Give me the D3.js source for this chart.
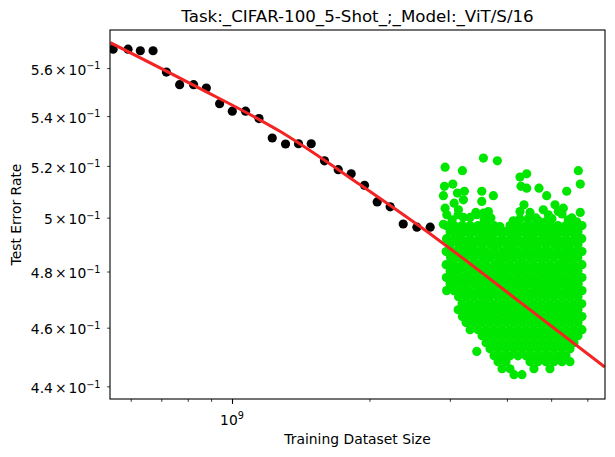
<!DOCTYPE html>
<html>
<head>
<meta charset="utf-8">
<script src="https://cdnjs.cloudflare.com/ajax/libs/d3/7.8.5/d3.min.js"></script>
<style>
    body { margin: 0; background: #fff; }
    svg { font-family: "DejaVu Sans", sans-serif; }
    .ticklabel { font-size: 13.89px; }
    .ticklabel .sup { font-size: 9.7px; }
</style>
</head>
<body>
<svg id="chart" width="615" height="457"></svg>
<script>
// axis limits (size in billions)
var xLimits = [0.5405, 6.56];
var yLimits = [0.4358, 0.5764];

// observed points (black)
var trainSize = [0.5490, 0.5920, 0.6298, 0.6716, 0.7183, 0.7679, 0.8240, 0.8786, 0.9394, 1.0015,
    1.0709, 1.1457, 1.2250, 1.3100, 1.3985, 1.4911, 1.5941, 1.7086, 1.8240, 1.9508,
    2.0796, 2.2203, 2.3712, 2.5405, 2.7164];
var trainError = [0.5681, 0.5681, 0.5674, 0.5674, 0.5583, 0.5530, 0.5530, 0.5516, 0.5451, 0.5420,
    0.5420, 0.5390, 0.5311, 0.5287, 0.5288, 0.5288, 0.5220, 0.5185, 0.5169, 0.5124,
    0.5060, 0.5041, 0.4976, 0.4964, 0.4964];

// fitted curve (red), sampled along the drawn line
var fitSize = [0.5416, 0.8312, 1.276, 1.909, 2.813, 4.274, 6.551];
var fitError = [0.5709, 0.5524, 0.5337, 0.5126, 0.4920, 0.4690, 0.4465];

// predicted points (green): loose points above/below the cloud
var predOutliers = [[3.553, 0.5231], [3.812, 0.5220], [2.929, 0.5195], [3.196, 0.5181], [5.734, 0.5181],
    [4.420, 0.5169], [4.273, 0.5156], [5.792, 0.5129], [2.919, 0.5120], [3.045, 0.5129],
    [4.295, 0.5120], [4.420, 0.5113], [4.703, 0.5113], [5.408, 0.5101], [3.524, 0.5101],
    [3.736, 0.5084], [4.889, 0.5084], [2.904, 0.5084], [3.117, 0.5094], [3.228, 0.5101],
    [3.212, 0.5068], [3.524, 0.5062], [4.360, 0.5049], [5.098, 0.5049], [5.316, 0.5036],
    [2.929, 0.5036], [3.065, 0.5055], [3.133, 0.5030], [4.273, 0.5023], [4.806, 0.5030],
    [2.954, 0.5011], [3.553, 0.5017], [3.643, 0.5023], [3.212, 0.5001], [4.929, 0.5011],
    [5.184, 0.5023], [5.451, 0.4992], [5.687, 0.4984], [4.131, 0.4988], [4.456, 0.4996],
    [4.686, 0.4988], [3.436, 0.5011], [3.322, 0.5001], [3.864, 0.4966], [2.904, 0.4975],
    [3.643, 0.4979], [3.436, 0.4518],
    [3.035, 0.4992], [3.128, 0.5011], [3.420, 0.5020], [3.567, 0.4992], [3.690, 0.4999],
    [4.273, 0.4996], [4.494, 0.5020], [4.630, 0.4999], [5.020, 0.4996], [5.281, 0.5014],
    [5.550, 0.4999], [5.790, 0.5020], [4.871, 0.4985]];

// predicted points (green): the dense cloud, read band by band
var predRowError = [0.4970, 0.4947, 0.4921, 0.4899, 0.4873, 0.4851, 0.4825, 0.4803, 0.4778, 0.4756,
    0.4731, 0.4709, 0.4684, 0.4663, 0.4639, 0.4618, 0.4593, 0.4572, 0.4548, 0.4527,
    0.4503, 0.4483, 0.4459, 0.4439];
var predRowSize = [
    [2.944, 3.065, 3.191, 3.322, 3.459, 3.601, 3.749, 4.063, 4.230, 4.404, 4.585, 4.774, 4.970, 5.176, 5.388, 5.610, 5.841],
    [3.004, 3.128, 3.256, 3.390, 3.529, 3.674, 3.825, 3.982, 4.146, 4.316, 4.494, 4.679, 4.871, 5.071, 5.281, 5.498, 5.725],
    [2.950, 3.070, 3.185, 3.322, 3.465, 3.601, 3.740, 3.903, 4.070, 4.230, 4.410, 4.585, 4.780, 4.970, 5.170, 5.388, 5.620, 5.835],
    [3.004, 3.135, 3.256, 3.385, 3.529, 3.680, 3.825, 3.990, 4.146, 4.320, 4.494, 4.670, 4.871, 5.080, 5.281, 5.490, 5.725],
    [2.944, 3.065, 3.195, 3.322, 3.459, 3.595, 3.749, 3.910, 4.063, 4.225, 4.404, 4.590, 4.774, 4.965, 5.176, 5.395, 5.610, 5.841],
    [3.010, 3.128, 3.250, 3.390, 3.535, 3.674, 3.830, 3.982, 4.140, 4.316, 4.500, 4.679, 4.865, 5.071, 5.290, 5.498, 5.720],
    [2.944, 3.060, 3.191, 3.330, 3.459, 3.601, 3.755, 3.903, 4.063, 4.235, 4.404, 4.580, 4.774, 4.970, 5.180, 5.388, 5.605, 5.841],
    [3.004, 3.128, 3.262, 3.390, 3.525, 3.674, 3.825, 3.975, 4.146, 4.316, 4.488, 4.679, 4.876, 5.071, 5.281, 5.505, 5.725],
    [2.948, 3.065, 3.191, 3.322, 3.455, 3.605, 3.749, 3.903, 4.058, 4.230, 4.410, 4.585, 4.774, 4.975, 5.176, 5.388, 5.615, 5.841],
    [3.004, 3.122, 3.256, 3.395, 3.529, 3.674, 3.820, 3.982, 4.152, 4.316, 4.494, 4.685, 4.871, 5.065, 5.281, 5.498, 5.730],
    [2.952, 3.065, 3.191, 3.318, 3.459, 3.601, 3.749, 3.908, 4.063, 4.230, 4.398, 4.585, 4.774, 4.970, 5.170, 5.388, 5.610, 5.841],
    [3.135, 3.256, 3.390, 3.529, 3.668, 3.825, 3.982, 4.146, 4.322, 4.494, 4.679, 4.871, 5.071, 5.286, 5.498, 5.725],
    [3.191, 3.322, 3.462, 3.601, 3.749, 3.903, 4.063, 4.230, 4.404, 4.585, 4.770, 4.970, 5.176, 5.388, 5.610, 5.835],
    [3.128, 3.250, 3.390, 3.529, 3.674, 3.830, 3.982, 4.146, 4.316, 4.494, 4.679, 4.871, 5.076, 5.281, 5.498, 5.725],
    [3.196, 3.322, 3.459, 3.601, 3.745, 3.903, 4.063, 4.230, 4.404, 4.585, 4.774, 4.970, 5.176, 5.392, 5.610, 5.841],
    [3.256, 3.390, 3.529, 3.674, 3.825, 3.982, 4.146, 4.316, 4.494, 4.679, 4.871, 5.071, 5.281, 5.498, 5.725],
    [3.322, 3.459, 3.601, 3.749, 3.903, 4.063, 4.230, 4.404, 4.585, 4.774, 4.970, 5.176, 5.388, 5.610, 5.841],
    [3.529, 3.674, 3.825, 3.982, 4.146, 4.316, 4.494, 4.679, 4.871, 5.071, 5.281, 5.498, 5.725],
    [3.601, 3.749, 3.903, 4.063, 4.230, 4.404, 4.585, 4.774, 4.970, 5.176, 5.388, 5.610],
    [3.674, 3.825, 3.982, 4.146, 4.316, 4.494, 4.679, 4.871, 5.071, 5.281, 5.498],
    [3.749, 3.903, 4.063, 4.230, 4.404, 4.585, 4.774, 4.970, 5.176, 5.388],
    [3.825, 3.982, 4.494, 4.679, 4.871, 5.071, 5.281, 5.498],
    [3.903, 4.063, 4.585, 4.970],
    [4.146, 4.316]
];

// ticks
var yTicks = [0.44, 0.46, 0.48, 0.50, 0.52, 0.54, 0.56];
var yTickLabels = ['4.4', '4.6', '4.8', '5', '5.2', '5.4', '5.6'];
var xMajorTicks = [1];
var xMajorLabels = ['9'];
var xMinorTicks = [0.6, 0.7, 0.8, 0.9, 2, 3, 4, 5, 6];

var titleText = 'Task:_CIFAR-100_5-Shot_;_Model:_ViT/S/16';

document.addEventListener('DOMContentLoaded', function () {
    drawChart();
});

function drawChart() {
    var margin = { left: 110, right: 10, top: 30, bottom: 58 };
    var width = 615 - margin.left - margin.right;
    var height = 457 - margin.top - margin.bottom;
    var dotR = 4.6;

    var svg = d3.select('#chart');
    svg.selectAll('*').remove();

    var x = d3.scaleLog().domain(xLimits).range([0, width]);
    var y = d3.scaleLog().domain(yLimits).range([height, 0]);

    var g = svg.append('g')
        .attr('transform', 'translate(' + margin.left + ', ' + margin.top + ')');

    g.append('clipPath').attr('id', 'plotClip')
        .append('rect').attr('width', width).attr('height', height);

    var plot = g.append('g').attr('clip-path', 'url(#plotClip)');

    // black points
    var trainData = trainSize.map(function (s, i) { return [s, trainError[i]]; });
    plot.selectAll('.train')
        .data(trainData)
        .enter()
        .append('circle')
        .attr('class', 'train')
        .attr('cx', d => x(d[0]))
        .attr('cy', d => y(d[1]))
        .attr('r', dotR)
        .style('fill', '#000');

    // green points
    var predData = predOutliers.slice();
    predRowError.forEach(function (e, i) {
        predRowSize[i].forEach(function (s) { predData.push([s, e]); });
    });
    plot.selectAll('.pred')
        .data(predData)
        .enter()
        .append('circle')
        .attr('class', 'pred')
        .attr('cx', d => x(d[0]))
        .attr('cy', d => y(d[1]))
        .attr('r', dotR)
        .style('fill', '#00e600');

    // red fit
    var fitData = fitSize.map(function (s, i) { return [s, fitError[i]]; });
    var line = d3.line()
        .x(d => x(d[0]))
        .y(d => y(d[1]))
        .curve(d3.curveMonotoneX);
    plot.append('path')
        .datum(fitData)
        .attr('d', line)
        .style('fill', 'none')
        .style('stroke', '#f42424')
        .attr('stroke-width', 3);

    // frame
    g.append('rect')
        .attr('width', width)
        .attr('height', height)
        .style('fill', 'none')
        .style('stroke', '#000')
        .attr('stroke-width', 1.1);

    // y axis ticks (labelled minor ticks)
    var yAxis = g.append('g')
        .call(d3.axisLeft(y).tickValues(yTicks).tickSize(2.8).tickFormat(() => ''));
    yAxis.select('.domain').remove();
    yAxis.selectAll('text').remove();
    yAxis.selectAll('.tick line').attr('stroke', '#000').attr('stroke-width', 0.8);

    // x axis, minor ticks
    var xMinor = g.append('g')
        .attr('transform', 'translate(0, ' + height + ')')
        .call(d3.axisBottom(x).tickValues(xMinorTicks).tickSize(2.8).tickFormat(() => ''));
    xMinor.select('.domain').remove();
    xMinor.selectAll('text').remove();
    xMinor.selectAll('.tick line').attr('stroke', '#000').attr('stroke-width', 0.8);

    // x axis, major tick
    var xMajor = g.append('g')
        .attr('transform', 'translate(0, ' + height + ')')
        .call(d3.axisBottom(x).tickValues(xMajorTicks).tickSize(4.9).tickFormat(() => ''));
    xMajor.select('.domain').remove();
    xMajor.selectAll('text').remove();
    xMajor.selectAll('.tick line').attr('stroke', '#000').attr('stroke-width', 1.1);

    // tick labels, drawn as plain text so the mathtext look can be kept
    var yLab = g.selectAll('.ylab')
        .data(yTicks)
        .enter()
        .append('text')
        .attr('class', 'ticklabel ylab')
        .attr('x', -9.5)
        .attr('y', d => y(d) + 6.8)
        .attr('text-anchor', 'end');
    yLab.append('tspan').text((d, i) => yTickLabels[i]);
    yLab.append('tspan').attr('dx', 2).text('\u00d7');
    yLab.append('tspan').attr('dx', 2).text('10');
    yLab.append('tspan').attr('class', 'sup').attr('dy', -5.5).text('\u22121');

    var xLab = g.selectAll('.xlab')
        .data(xMajorTicks)
        .enter()
        .append('text')
        .attr('class', 'ticklabel xlab')
        .attr('x', d => x(d))
        .attr('y', height + 25.7)
        .attr('text-anchor', 'middle');
    xLab.append('tspan').text('10');
    xLab.append('tspan').attr('class', 'sup').attr('dy', -6).text((d, i) => xMajorLabels[i]);

    // labels
    svg.append('text')
        .attr('x', margin.left + width / 2)
        .attr('y', 22)
        .attr('text-anchor', 'middle')
        .style('font-size', '16.67px')
        .text(titleText);

    svg.append('text')
        .attr('x', margin.left + width / 2)
        .attr('y', 443.5)
        .attr('text-anchor', 'middle')
        .style('font-size', '13.89px')
        .text('Training Dataset Size');

    svg.append('text')
        .attr('transform', 'translate(21, ' + (margin.top + height / 2) + ') rotate(-90)')
        .attr('text-anchor', 'middle')
        .style('font-size', '13.89px')
        .text('Test Error Rate');
}
</script>
</body>
</html>
